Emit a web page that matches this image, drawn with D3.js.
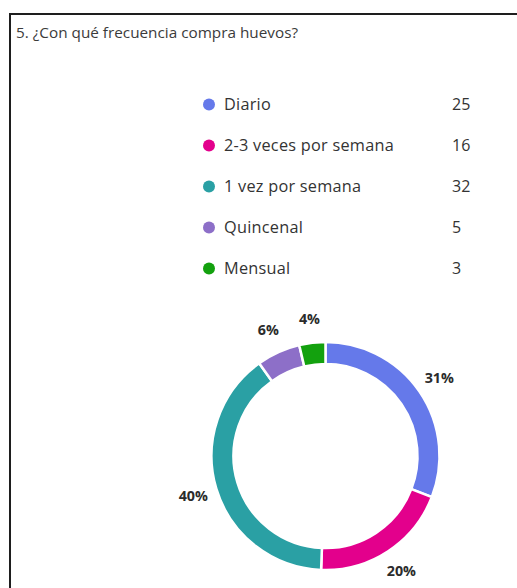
<!DOCTYPE html>
<html>
<head>
<meta charset="utf-8">
<script src="https://cdn.jsdelivr.net/npm/d3@7"></script>
<style>
  html, body { margin: 0; padding: 0; background: #fff; }
  svg { display: block; }
</style>
</head>
<body>
<svg id="chart" width="517" height="588"></svg>
<script>
// Survey question: how often eggs are bought
const title = "5. ¿Con qué frecuencia compra huevos?";
const categories = ["Diario", "2-3 veces por semana", "1 vez por semana", "Quincenal", "Mensual"];
const counts = [25, 16, 32, 5, 3];
const colors = ["#6579ea", "#e3008c", "#2aa0a4", "#8d6fc8", "#13a10e"];

const svg = d3.select("#chart");
const font = "'Open Sans', 'Noto Sans', sans-serif";

// Card frame
svg.append("rect")
  .attr("x", 10).attr("y", 14)
  .attr("width", 540).attr("height", 600)
  .attr("fill", "#fff")
  .attr("stroke", "#1e1e1e")
  .attr("stroke-width", 2);

svg.append("text")
  .attr("x", 16).attr("y", 38)
  .attr("font-family", font)
  .attr("font-size", 15.3)
  .attr("fill", "#3b3b3b")
  .text(title);

// Legend with counts
const legendY = d3.scaleBand().domain(categories).range([84, 289]);
const legend = svg.append("g");
const rows = legend.selectAll("g").data(categories).join("g")
  .attr("transform", d => `translate(0,${legendY(d) + legendY.bandwidth() / 2})`);
rows.append("circle")
  .attr("cx", 209).attr("cy", 0).attr("r", 6)
  .attr("fill", (d, i) => colors[i]);
rows.append("text")
  .attr("x", 224).attr("y", 0).attr("dy", "0.35em")
  .attr("font-family", font).attr("font-size", 16.3)
  .attr("letter-spacing", 0.25)
  .attr("fill", "#333")
  .text(d => d);
rows.append("text")
  .attr("x", 452).attr("y", 0).attr("dy", "0.35em")
  .attr("font-family", font).attr("font-size", 16)
  .attr("fill", "#333")
  .text((d, i) => counts[i]);

// Donut
const cx = 325.5, cy = 456, outerR = 114, innerR = 92;
const total = d3.sum(counts);
const pie = d3.pie().sort(null).value(d => d.value);
const arcs = pie(categories.map((c, i) => ({ cat: c, value: counts[i], color: colors[i] })));
const arc = d3.arc().innerRadius(innerR).outerRadius(outerR);
const labelArc = d3.arc().innerRadius(138).outerRadius(138);

const g = svg.append("g").attr("transform", `translate(${cx},${cy})`);
g.selectAll("path").data(arcs).join("path")
  .attr("d", arc)
  .attr("fill", d => d.data.color)
  .attr("stroke", "#fff")
  .attr("stroke-width", 2.5);

g.selectAll("text.pct").data(arcs).join("text")
  .attr("class", "pct")
  .attr("transform", d => `translate(${labelArc.centroid(d)})`)
  .attr("text-anchor", "middle")
  .attr("dy", "0.35em")
  .attr("font-family", font)
  .attr("font-size", 14.3)
  .attr("font-weight", 700)
  .attr("fill", "#2b2b2b")
  .text(d => Math.round(d.data.value / total * 100) + "%");
</script>
</body>
</html>
